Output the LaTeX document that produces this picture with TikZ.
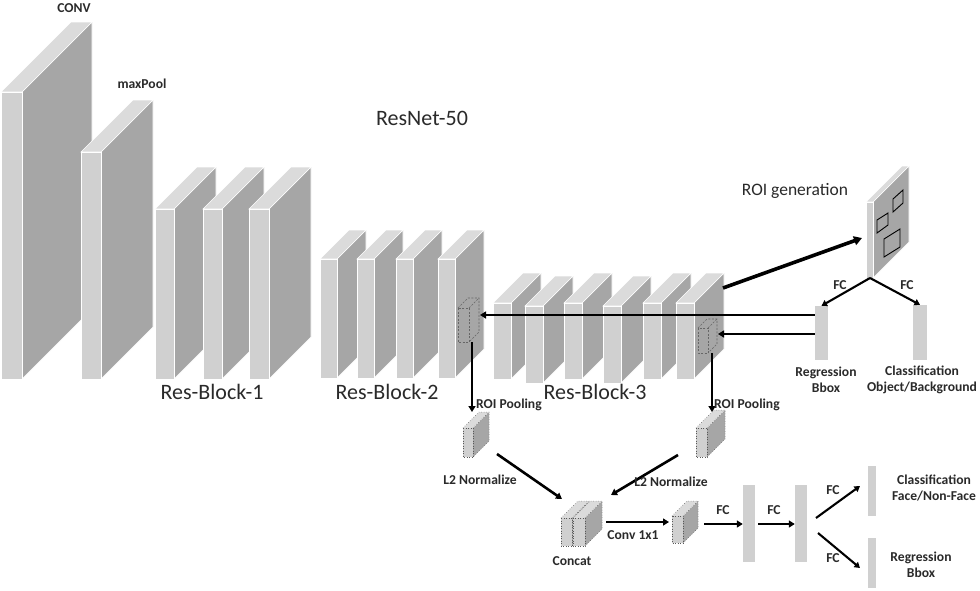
\documentclass[tikz,border=0pt]{standalone}
\usepackage{fontspec}
\setmainfont{Carlito}
\usetikzlibrary{arrows.meta}
\definecolor{frontc}{HTML}{D0D0D0}
\definecolor{topc}{HTML}{DBDBDB}
\definecolor{sidec}{HTML}{A6A6A6}
\definecolor{txt}{HTML}{2A2A2A}
\tikzset{
  frontface/.style={fill=frontc,draw=white,line width=0.6pt},
  topface/.style={fill=topc,draw=white,line width=0.6pt},
  sideface/.style={fill=sidec,draw=white,line width=0.6pt},
  dotedge/.style={draw=black!65,dotted,line width=0.5pt},
  dashbox/.style={draw=black!60,dash pattern=on 2pt off 1.5pt,line width=0.6pt},
  barnode/.style={fill=frontc,draw=none,inner sep=0pt,rectangle},
  arr/.style={-{Triangle[length=6pt,width=7pt]},line width=2.6pt},
  thinarr/.style={-{Triangle[length=5.5pt,width=6.5pt]},line width=2.1pt},
  lbl/.style={font=\fontsize{13.6}{16}\selectfont\bfseries,text=txt,align=center,inner sep=0pt},
  big/.style={font=\fontsize{22}{25}\selectfont,text=txt,inner sep=0pt},
  mid/.style={font=\fontsize{17.5}{20}\selectfont,text=txt,inner sep=0pt},
}
% x, ytop, w, h, depth
\newcommand\drawslab[5]{%
  \filldraw[sideface] (#1+#3,#2) -- ++(#5,-#5) -- ++(0,#4) -- ++(-#5,#5) -- cycle;
  \filldraw[topface] (#1,#2) -- ++(#5,-#5) -- ++(#3,0) -- ++(-#5,#5) -- cycle;
  \filldraw[frontface] (#1,#2) rectangle ++(#3,#4);
}
\newcommand\drawsmallbox[5]{%
  \fill[sidec] (#1+#3,#2) -- ++(#5,-#5) -- ++(0,#4) -- ++(-#5,#5) -- cycle;
  \fill[topc] (#1,#2) -- ++(#5,-#5) -- ++(#3,0) -- ++(-#5,#5) -- cycle;
  \fill[frontc] (#1,#2) rectangle ++(#3,#4);
  \draw[dotedge] (#1,#2) rectangle ++(#3,#4);
  \draw[dotedge] (#1,#2) -- ++(#5,-#5) -- ++(#3,0) -- ++(0,#4) -- ++(-#5,#5);
  \draw[dotedge] (#1+#3,#2) -- ++(#5,-#5);
}
\newcommand\drawdashbox[5]{%
  \draw[dashbox] (#1,#2) rectangle ++(#3,#4);
  \draw[dashbox] (#1,#2) -- ++(#5,-#5) -- ++(#3,0) -- ++(0,#4) -- ++(-#5,#5);
  \draw[dashbox] (#1+#3,#2) -- ++(#5,-#5);
}
\begin{document}
\begin{tikzpicture}[x=1pt,y=-1pt]
\useasboundingbox (0,0) rectangle (980,590);
\fill[white] (0,0) rectangle (980,590);

% CONV and maxPool
\drawslab{1}{92}{21}{287}{70}
\drawslab{81}{152}{20}{227}{52}
% Res-Block-1
\drawslab{155}{209}{19}{170}{42}
\drawslab{203}{209}{19}{170}{42}
\drawslab{249}{209}{20}{170}{42}
% Res-Block-2
\drawslab{320}{259}{17}{119}{29}
\drawslab{357}{259}{17}{119}{29}
\drawslab{396}{259}{17}{119}{29}
\drawslab{438}{259}{17}{119}{29}
% Res-Block-3
\drawslab{493}{303}{18}{76}{30}
\drawslab{525}{306}{18}{77}{30}
\drawslab{564}{303}{18}{76}{30}
\drawslab{603}{306}{18}{77}{30}
\drawslab{643}{303}{18}{76}{30}
\drawslab{676}{303}{18}{76}{30}

% dashed ROI boxes
\drawdashbox{458}{308}{11}{34}{10}
\drawdashbox{698}{328}{10}{25}{9}

% ROI generation panel
\drawslab{866}{202}{7}{76}{36}
\draw[black,line width=0.9pt] (893,199) -- (903,190) -- (903,203) -- (893,212) -- cycle;
\draw[black,line width=0.9pt] (877,220) -- (888,213) -- (888,225) -- (877,233) -- cycle;
\draw[black,line width=0.9pt] (884,239) -- (900,229) -- (900,247) -- (884,257) -- cycle;

% small boxes
\drawsmallbox{463}{428}{10}{29}{16}
\drawsmallbox{696}{428}{11}{29}{18}
\drawsmallbox{561}{518}{11}{28}{17}
\drawsmallbox{573}{518}{12}{28}{17}
\drawsmallbox{672}{516}{11}{27}{15}

% bars
\node[barnode,minimum width=13pt,minimum height=54pt] (regbarA) at (821.5,333) {};
\node[barnode,minimum width=14pt,minimum height=55pt] (clsbarA) at (920,332.5) {};
\node[barnode,minimum width=12pt,minimum height=77pt] (fcbarA) at (749,523.5) {};
\node[barnode,minimum width=12pt,minimum height=77pt] (fcbarB) at (801,523.5) {};
\node[barnode,minimum width=8pt,minimum height=50pt] (clsbarB) at (872,491) {};
\node[barnode,minimum width=8pt,minimum height=50pt] (regbarB) at (872,563) {};

% coordinates
\coordinate (blkthreeR) at (723,288);
\coordinate (panelL) at (862,238);
\coordinate (panelB) at (870,278);
\coordinate (dashAin) at (480,315);
\coordinate (dashBin) at (718,334);
\coordinate (dashAbot) at (472,342);
\coordinate (dashBbot) at (712,353);
\coordinate (poolAtop) at (472,412);
\coordinate (poolBtop) at (712,412);
\coordinate (poolAout) at (497,454);
\coordinate (poolBout) at (678,455);
\coordinate (catinA) at (562,499);
\coordinate (catinB) at (611,495);
\coordinate (catout) at (606,522);
\coordinate (convin) at (669,522);
\coordinate (convout) at (704,524);
\coordinate (fcAout) at (758,524);
\coordinate (fcBout1) at (816,518);
\coordinate (fcBout2) at (818,533);
\coordinate (clsin) at (860,486);
\coordinate (regin) at (860,568);

% connectors
\draw[-{Triangle[length=8pt,width=9pt]},line width=3.6pt] (blkthreeR) -- (panelL);
\draw[thinarr] (panelB) -- (regbarA.north);
\draw[thinarr] (panelB) -- (clsbarA.north);
\draw[arr] (regbarA.west |- dashAin) -- (dashAin);
\draw[arr] (regbarA.west |- dashBin) -- (dashBin);
\draw[arr] (dashAbot) -- (poolAtop);
\draw[arr] (dashBbot) -- (poolBtop);
\draw[arr] (poolAout) -- (catinA);
\draw[arr] (poolBout) -- (catinB);
\draw[arr] (catout) -- (convin);
\draw[arr] (convout) -- (fcbarA.west |- convout);
\draw[arr] (fcAout) -- (fcbarB.west |- fcAout);
\draw[thinarr] (fcBout1) -- (clsin);
\draw[thinarr] (fcBout2) -- (regin);

% labels
\node[lbl] (tconv) at (74,8) {CONV};
\node[lbl] (tmax) at (142,84) {maxPool};
\node[big] (tresnet) at (422,118) {ResNet-50};
\node[big] (trb1) at (212,392) {Res-Block-1};
\node[big] (trb2) at (387,392) {Res-Block-2};
\node[big] (trb3) at (595,392) {Res-Block-3};
\node[mid] (troigen) at (795,191) {ROI generation};
\node[lbl,anchor=west] (tpoolA) at (476,405) {ROI Pooling};
\node[lbl,anchor=west] (tpoolB) at (714,405) {ROI Pooling};
\node[lbl] (tfc1) at (840,285) {FC};
\node[lbl] (tfc2) at (907,285) {FC};
\node[lbl] (treg1) at (826,380) {Regression\\Bbox};
\node[lbl] (tcls1) at (922,380) {Classification\\Object/Background};
\node[lbl] (tl2a) at (480,480) {L2 Normalize};
\node[lbl] (tl2b) at (671,482) {L2 Normalize};
\node[lbl] (tconcat) at (572,561) {Concat};
\node[lbl] (tconv11) at (633,535) {Conv 1x1};
\node[lbl] (tfc3) at (723,510) {FC};
\node[lbl] (tfc4) at (774,510) {FC};
\node[lbl] (tfc5) at (833,490) {FC};
\node[lbl] (tfc6) at (833,558) {FC};
\node[lbl] (tcls2) at (934,488) {Classification\\Face/Non-Face};
\node[lbl] (treg2) at (921,565) {Regression\\Bbox};
\end{tikzpicture}
\end{document}
